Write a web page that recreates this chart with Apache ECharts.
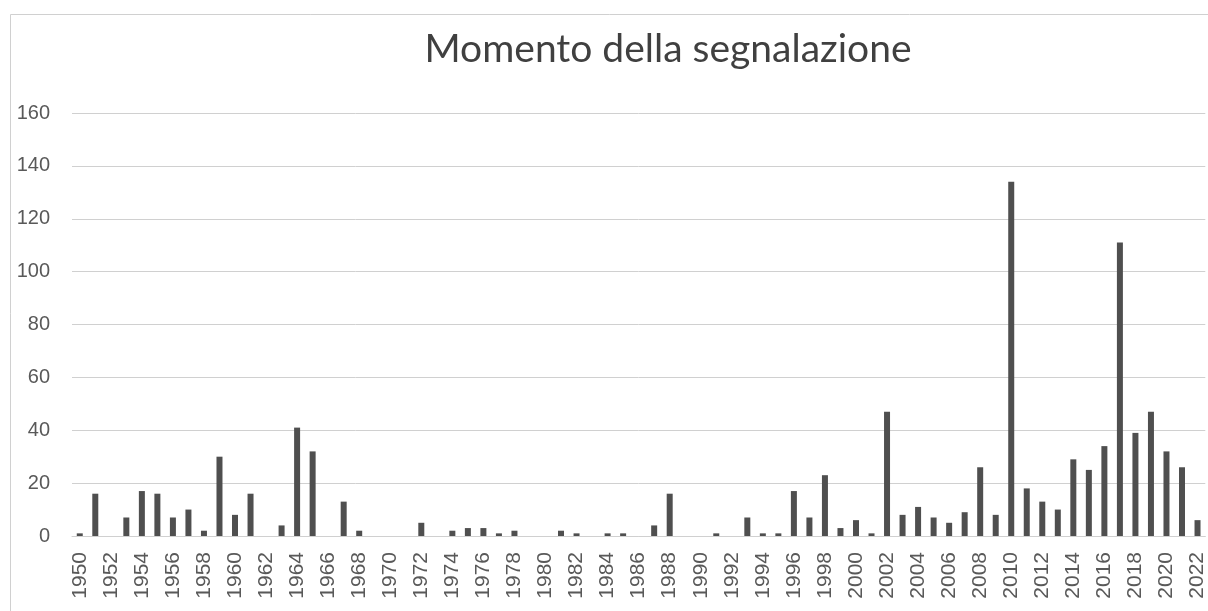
<!DOCTYPE html>
<html><head><meta charset="utf-8">
<script src="https://cdn.jsdelivr.net/npm/echarts@6/dist/echarts.min.js"></script>
<style>html,body{margin:0;padding:0;background:#fff;}#c{width:1208px;height:611px;}</style>
</head><body><div id="c"></div>
<script>
const years = [];
for (let y = 1950; y <= 2022; y++) years.push(String(y));
const values = [1,16,0,7,17,16,7,10,2,30,8,16,0,4,41,32,0,13,2,0,0,0,5,0,2,3,3,1,2,0,0,2,1,0,1,1,0,4,16,0,0,1,0,7,1,1,17,7,23,3,6,1,47,8,11,7,5,9,26,8,134,18,13,10,29,25,34,111,39,47,32,26,6];
const titleText = 'Momento della segnalazione';

const chart = echarts.init(document.getElementById('c'));
chart.setOption({
  animation: false,
  backgroundColor: '#fff',
  title: {
    text: titleText, left: 663, top: 25, textAlign: 'center',
    textStyle: {fontFamily: 'Lato', fontSize: 39, fontWeight: 'normal', color: '#404040'}
  },
  graphic: [{
    type: 'polyline', silent: true,
    shape: {points: [[10.5, 640], [10.5, 14.5], [1220, 14.5]]},
    style: {stroke: '#d0d0d0', lineWidth: 1, fill: null}
  }],
  grid: {left: 72, top: 113, width: 1137, height: 423, containLabel: false},
  xAxis: {
    type: 'category', data: years,
    axisTick: {show: false},
    axisLine: {lineStyle: {color: '#d0d0d0', width: 1}},
    axisLabel: {interval: 1, rotate: 90, margin: 16, color: '#595959', fontSize: 21, fontFamily: 'Liberation Sans'}
  },
  yAxis: {
    type: 'value', min: 0, max: 160, interval: 20,
    axisLine: {show: false}, axisTick: {show: false},
    splitLine: {lineStyle: {color: '#d0d0d0', width: 1}},
    axisLabel: {margin: 22, color: '#595959', fontSize: 20, fontFamily: 'Liberation Sans'}
  },
  series: [{
    type: 'bar', data: values, barWidth: 6,
    itemStyle: {color: '#4f4f4f'}
  }]
});
</script></body></html>
